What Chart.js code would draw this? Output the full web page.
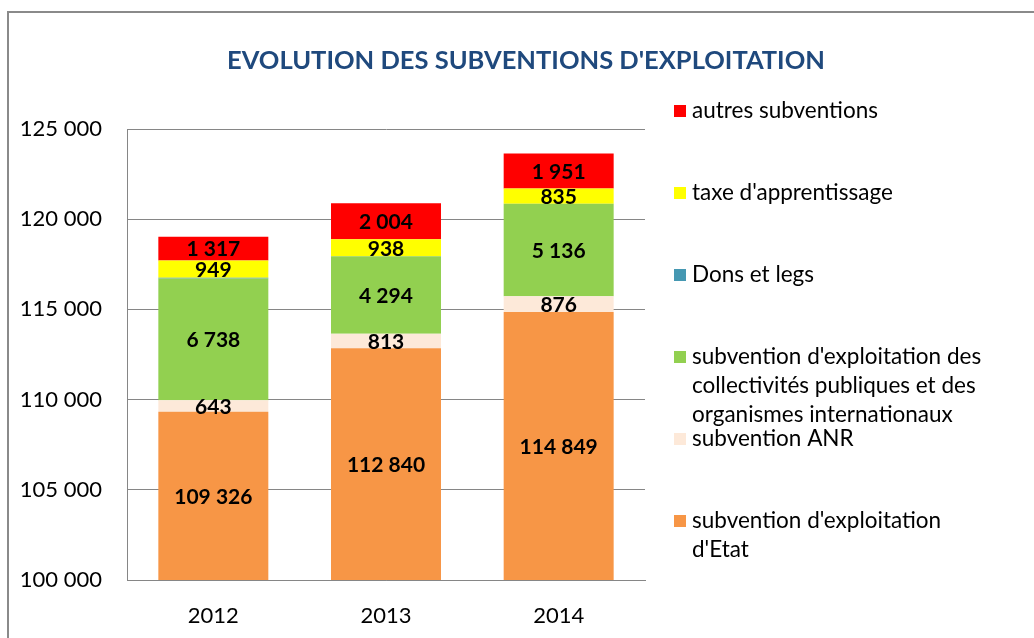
<!DOCTYPE html>
<html>
<head>
<meta charset="utf-8">
<script src="https://cdn.jsdelivr.net/npm/chart.js@4/dist/chart.umd.min.js"></script>
<style>
  html, body { margin: 0; padding: 0; background: #fff; }
  #wrap { position: relative; width: 1034px; height: 638px; overflow: hidden; }
  #frame { position: absolute; left: 7px; top: 11px; width: 1100px; height: 700px;
           border-top: 2px solid #8a8a8a; border-left: 2px solid #8a8a8a; }
  #chart { position: absolute; left: 0; top: 0; }
</style>
</head>
<body>
<div id="wrap">
  <div id="frame"></div>
  <canvas id="chart" width="1034" height="638"></canvas>
</div>
<script>
// data
var title = "EVOLUTION DES SUBVENTIONS D'EXPLOITATION";
var years = ['2012', '2013', '2014'];
var seriesNames = [
    "subvention d'exploitation d'Etat",
    "subvention ANR",
    "subvention d'exploitation des collectivités publiques et des organismes internationaux",
    "Dons et legs",
    "taxe d'apprentissage",
    "autres subventions"
];
var etat = [109326, 112840, 114849];
var anr = [643, 813, 876];
var collectivites = [6738, 4294, 5136];
var dons = [50, 0, 0];
var taxe = [949, 938, 835];
var autres = [1317, 2004, 1951];
var yTicks = [100000, 105000, 110000, 115000, 120000, 125000];

var colors = ['#F79646', '#FDE9D9', '#92D050', '#4598B2', '#FFFF00', '#FF0000'];
var showValue = [true, true, true, false, true, true];
var FONT = 'Lato, "Open Sans", sans-serif';

function fmt(v) {
    return String(v).replace(/\B(?=(\d{3})+(?!\d))/g, ' ');
}

var allValues = [etat, anr, collectivites, dons, taxe, autres];
var datasets = allValues.map(function (vals, i) {
    return {
        label: seriesNames[i],
        data: vals,
        backgroundColor: colors[i],
        borderWidth: 0,
        categoryPercentage: 1,
        barPercentage: 0.637
    };
});

// title centred over the whole picture
var topTitle = {
    id: 'topTitle',
    afterDraw: function (chart) {
        var ctx = chart.ctx;
        ctx.save();
        ctx.font = 'bold 25.5px ' + FONT;
        ctx.fillStyle = '#1F497D';
        ctx.textAlign = 'center';
        ctx.textBaseline = 'middle';
        ctx.fillText(title, 526, 61);
        ctx.restore();
    }
};

// value labels centred in each visible segment
var valueLabels = {
    id: 'valueLabels',
    afterDatasetsDraw: function (chart) {
        var ctx = chart.ctx;
        var bottom = chart.chartArea.bottom;
        ctx.save();
        ctx.font = 'bold 21px ' + FONT;
        ctx.fillStyle = '#000';
        ctx.textAlign = 'center';
        ctx.textBaseline = 'middle';
        chart.data.datasets.forEach(function (ds, i) {
            if (!showValue[i]) return;
            chart.getDatasetMeta(i).data.forEach(function (bar, j) {
                var base = Math.min(bar.base, bottom);
                ctx.fillText(fmt(ds.data[j]), bar.x, (bar.y + base) / 2 + 1);
            });
        });
        ctx.restore();
    }
};

// legend on the right, top series first, wrapped text
var sideLegend = {
    id: 'sideLegend',
    afterDraw: function (chart) {
        var ctx = chart.ctx;
        ctx.save();
        ctx.font = '22.5px ' + FONT;
        ctx.textBaseline = 'middle';
        ctx.textAlign = 'left';
        var x0 = 674, tx = 692, y = 111, step = 82, lh = 29, maxW = 300;
        var n = chart.data.datasets.length;
        for (var k = n - 1; k >= 0; k--) {
            var ds = chart.data.datasets[k];
            var words = ds.label.split(' ');
            var lines = [], cur = '';
            words.forEach(function (w) {
                var t = cur ? cur + ' ' + w : w;
                if (ctx.measureText(t).width > maxW && cur) { lines.push(cur); cur = w; }
                else cur = t;
            });
            lines.push(cur);
            ctx.fillStyle = ds.backgroundColor;
            ctx.fillRect(x0, y - 6, 12, 12);
            ctx.fillStyle = '#000';
            lines.forEach(function (l, li) { ctx.fillText(l, tx, y + li * lh); });
            y += step;
        }
        ctx.restore();
    }
};

var ctx = document.getElementById('chart').getContext('2d');
var myChart = new Chart(ctx, {
    type: 'bar',
    data: { labels: years, datasets: datasets },
    plugins: [topTitle, valueLabels, sideLegend],
    options: {
        responsive: false,
        animation: false,
        layout: { padding: { left: 0, right: 389, top: 129, bottom: 0 } },
        plugins: {
            legend: { display: false },
            tooltip: { enabled: false },
            title: { display: false }
        },
        scales: {
            x: {
                stacked: true,
                grid: { display: false },
                border: { display: true, color: '#868686', width: 1 },
                ticks: { color: '#000', font: { family: FONT, size: 22 }, padding: 15 },
                afterFit: function (s) { s.height = 58; }
            },
            y: {
                stacked: true,
                min: yTicks[0],
                max: yTicks[yTicks.length - 1],
                afterBuildTicks: function (s) { s.ticks = yTicks.map(function (v) { return { value: v }; }); },
                grid: { color: '#868686', drawTicks: false },
                border: { display: true, color: '#868686', width: 1 },
                ticks: {
                    color: '#000',
                    font: { family: FONT, size: 22 },
                    padding: 25,
                    callback: function (v) { return fmt(v); }
                },
                afterFit: function (s) { s.width = 127; }
            }
        }
    }
});
</script>
</body>
</html>
